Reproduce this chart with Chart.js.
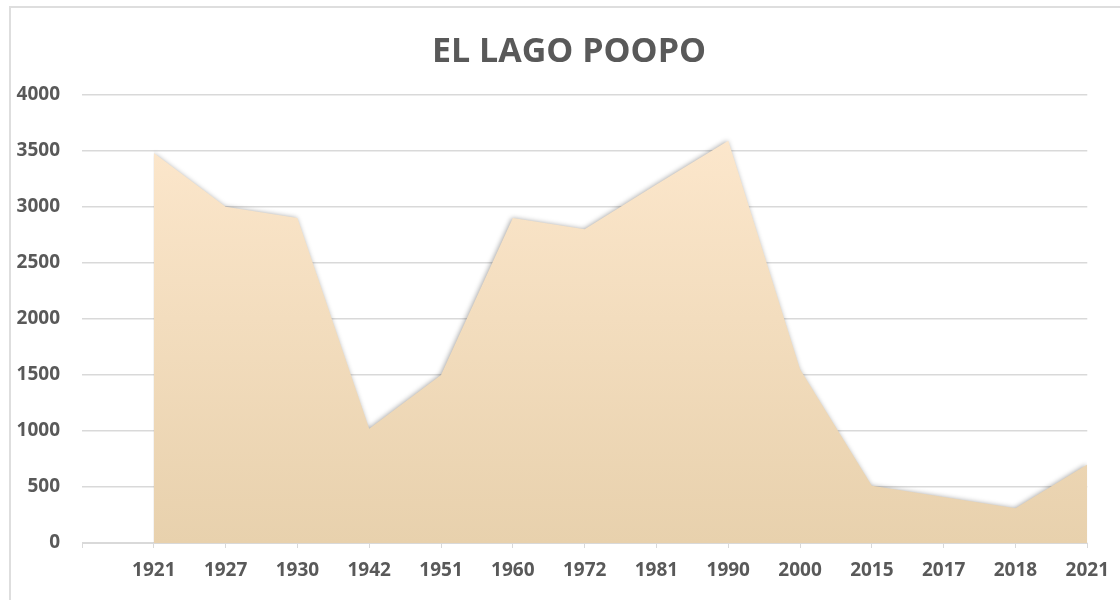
<!DOCTYPE html>
<html lang="es">
<head>
<meta charset="utf-8">
<title>El Lago Poopo</title>
<script src="https://cdn.jsdelivr.net/npm/chart.js@4/dist/chart.umd.min.js"></script>
<style>
    body { margin: 0; background: #fff; }
    #marco { position: absolute; left: 9px; top: 6px; width: 1200px; height: 700px; border: 2px solid #dedede; }
    #lienzo { position: absolute; left: 0; top: 0; width: 1120px; height: 600px; }
</style>
</head>
<body>
<div id="marco"></div>
<div id="lienzo"><canvas id="lagoChart" width="1120" height="600"></canvas></div>
<script>
// Superficie del lago Poopó por año
const anios = ['1921', '1927', '1930', '1942', '1951', '1960', '1972', '1981', '1990', '2000', '2015', '2017', '2018', '2021'];
const superficie = [3480, 3000, 2900, 1020, 1500, 2900, 2800, 3200, 3590, 1550, 510, 410, 310, 700];
const marcasY = [0, 500, 1000, 1500, 2000, 2500, 3000, 3500, 4000];

const GRIS_TEXTO = '#595959';
const GRIS_REJILLA = '#d9d9d9';
const FUENTE = "'Open Sans', 'Noto Sans', sans-serif";

// Sombra suave alrededor del área
const sombraArea = {
    id: 'sombraArea',
    beforeDatasetsDraw(chart) {
        const ctx = chart.ctx;
        ctx.save();
        ctx.shadowColor = 'rgba(0,0,0,0.35)';
        ctx.shadowBlur = 5;
        ctx.shadowOffsetX = -1;
        ctx.shadowOffsetY = 0;
    },
    afterDatasetsDraw(chart) {
        chart.ctx.restore();
    }
};

// Centrar el título sobre el área del gráfico
const tituloCentrado = {
    id: 'tituloCentrado',
    afterLayout(chart) {
        const t = chart.titleBlock;
        if (t) t.left += 36;
    }
};

function degradado(context) {
    const area = context.chart.chartArea;
    if (!area) return '#f6dfc0';
    const g = context.chart.ctx.createLinearGradient(0, area.top, 0, area.bottom);
    g.addColorStop(0, '#fee9cf');
    g.addColorStop(1, '#e8d1ad');
    return g;
}

new Chart(document.getElementById('lagoChart'), {
    type: 'line',
    data: {
        datasets: [{
            data: superficie.map((v, i) => ({ x: i, y: v })),
            fill: 'origin',
            backgroundColor: degradado,
            borderColor: 'rgba(0,0,0,0)',
            borderWidth: 0,
            pointRadius: 0,
            tension: 0
        }]
    },
    plugins: [sombraArea, tituloCentrado],
    options: {
        responsive: false,
        animation: false,
        layout: { padding: { left: 10, right: 28, top: 0, bottom: 0 } },
        plugins: {
            legend: { display: false },
            tooltip: { enabled: false },
            title: {
                display: true,
                text: 'EL LAGO POOPO',
                color: GRIS_TEXTO,
                font: { family: FUENTE, size: 34, weight: 'bold', lineHeight: 1.2 },
                padding: { top: 32, bottom: 22 }
            }
        },
        scales: {
            x: {
                type: 'linear',
                min: -1,
                max: anios.length - 1,
                afterFit(scale) { scale.height = 57; },
                afterBuildTicks(scale) {
                    scale.ticks = [-1].concat(anios.map((_, i) => i)).map(v => ({ value: v }));
                },
                ticks: {
                    callback: v => anios[v] || '',
                    color: GRIS_TEXTO,
                    font: { family: FUENTE, size: 19, weight: 'bold' },
                    padding: 11,
                    autoSkip: false,
                    maxRotation: 0
                },
                grid: { drawOnChartArea: false, drawTicks: true, tickLength: 5, color: GRIS_REJILLA },
                border: { color: GRIS_REJILLA, width: 1 }
            },
            y: {
                min: 0,
                max: 4000,
                afterFit(scale) { scale.width = 72; },
                afterBuildTicks(scale) {
                    scale.ticks = marcasY.map(v => ({ value: v }));
                },
                ticks: {
                    callback: v => String(v),
                    color: GRIS_TEXTO,
                    font: { family: FUENTE, size: 19, weight: 'bold' },
                    padding: 22
                },
                grid: { drawTicks: false, color: GRIS_REJILLA, lineWidth: 1.5 },
                border: { display: false }
            }
        }
    }
});
</script>
</body>
</html>
